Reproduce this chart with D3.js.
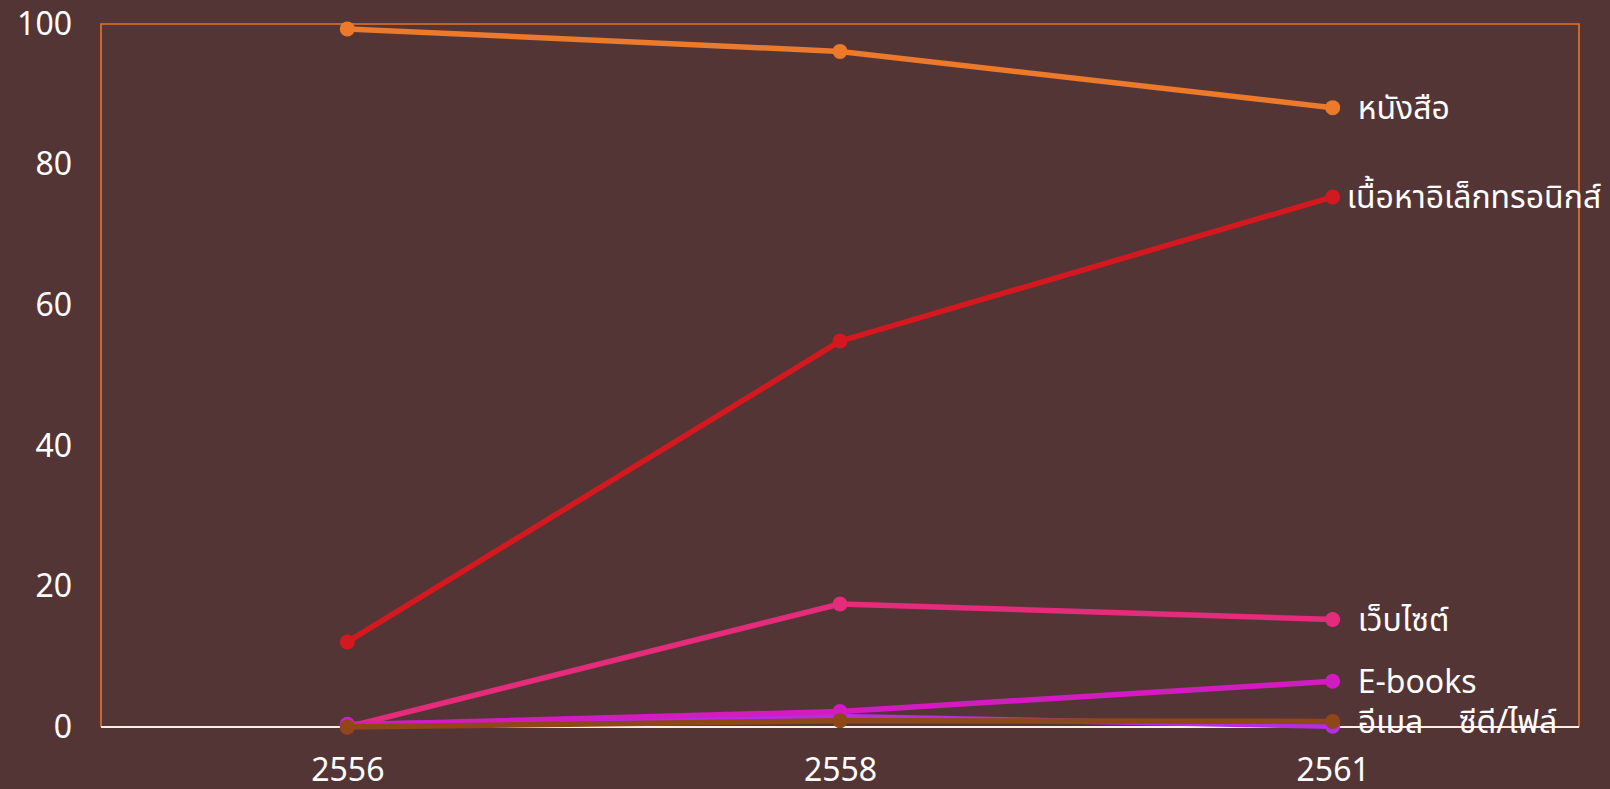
<!DOCTYPE html>
<html>
<head>
<meta charset="utf-8">
<script src="https://cdn.jsdelivr.net/npm/d3@7"></script>
<style>
  html, body { margin: 0; padding: 0; background: #543536; }
  svg text { font-family: "Noto Sans", "Noto Sans Thai", "DejaVu Sans", sans-serif; fill: #ffffff; }
</style>
</head>
<body>
<svg id="chart" width="1610" height="789"></svg>
<script>
// ปีที่สำรวจ
var years = ["2556", "2558", "2561"];

// ชื่อชุดข้อมูล (ลำดับการวาด)
var seriesNames = ["หนังสือ", "เนื้อหาอิเล็กทรอนิกส์", "เว็บไซต์", "อีเมล", "E-books", "ซีดี/ไฟล์"];

// ค่าร้อยละของแต่ละชุด
var booksValues = [99.3, 96.1, 88.1];
var electronicValues = [12.1, 54.9, 75.4];
var websiteValues = [0, 17.5, 15.3];
var emailValues = [0.4, 1.5, 0.1];
var ebooksValues = [0.3, 2.2, 6.5];
var cdValues = [0, 0.9, 0.8];

var yTicks = [0, 20, 40, 60, 80, 100];

var seriesValues = [booksValues, electronicValues, websiteValues, emailValues, ebooksValues, cdValues];
var colors = ["#ec7a2a", "#d4181f", "#e52b7c", "#b62ee0", "#d21cbf", "#8e4716"];

var svg = d3.select("#chart");
var width = 1610, height = 789;
var margin = { top: 24, right: 31, bottom: 62, left: 101 };
var fontSize = 32;

svg.append("rect")
    .attr("width", width)
    .attr("height", height)
    .attr("fill", "#543536");

var x = d3.scalePoint()
    .domain(years)
    .range([margin.left, width - margin.right])
    .padding(0.5);

var y = d3.scaleLinear()
    .domain([0, 100])
    .range([height - margin.bottom, margin.top]);

// กรอบพื้นที่กราฟ
svg.append("path")
    .attr("d", "M" + margin.left + "," + y(0) + "V" + margin.top + "H" + (width - margin.right) + "V" + y(0))
    .attr("fill", "none")
    .attr("stroke", "#e8732a")
    .attr("stroke-width", 1.6);

// แกน y
var yAxis = svg.append("g")
    .attr("transform", "translate(" + margin.left + ",0)")
    .call(d3.axisLeft(y).tickValues(yTicks).tickSize(0).tickPadding(29));
yAxis.select(".domain").remove();
yAxis.selectAll("text")
    .style("font-size", fontSize + "px")
    .attr("fill", "#ffffff");

// แกน x
var xAxis = svg.append("g")
    .attr("transform", "translate(0," + y(0) + ")")
    .call(d3.axisBottom(x).tickSize(0).tickPadding(31));
xAxis.select(".domain")
    .attr("d", "M" + margin.left + ",0H" + (width - margin.right))
    .attr("stroke", "#fbeee2")
    .attr("stroke-width", 2);
xAxis.selectAll("text")
    .style("font-size", fontSize + "px")
    .attr("fill", "#ffffff");

var line = d3.line()
    .x(function (d, i) { return x(years[i]); })
    .y(function (d) { return y(d); });

// ระยะห่างของป้ายชื่อจากจุดสุดท้าย
var labelDx = [25, 14, 25, 25, 25, 126];

seriesValues.forEach(function (vals, k) {
    var g = svg.append("g");
    g.append("path")
        .datum(vals)
        .attr("d", line)
        .attr("fill", "none")
        .attr("stroke", colors[k])
        .attr("stroke-width", 5.5)
        .attr("stroke-linejoin", "round");

    g.selectAll("circle")
        .data(vals)
        .enter()
        .append("circle")
        .attr("cx", function (d, i) { return x(years[i]); })
        .attr("cy", function (d) { return y(d); })
        .attr("r", 7.5)
        .attr("fill", colors[k]);
});

// ป้ายชื่อชุดข้อมูล (วาดทีหลังให้อยู่ด้านบน)
seriesValues.forEach(function (vals, k) {
    var last = vals.length - 1;
    var ly = y(vals[last]);
    if (k === 3) ly = y(cdValues[last]);
    svg.append("text")
        .attr("x", x(years[last]) + labelDx[k])
        .attr("y", ly)
        .attr("dy", "0.35em")
        .style("font-size", fontSize + "px")
        .text(seriesNames[k]);
});
</script>
</body>
</html>
